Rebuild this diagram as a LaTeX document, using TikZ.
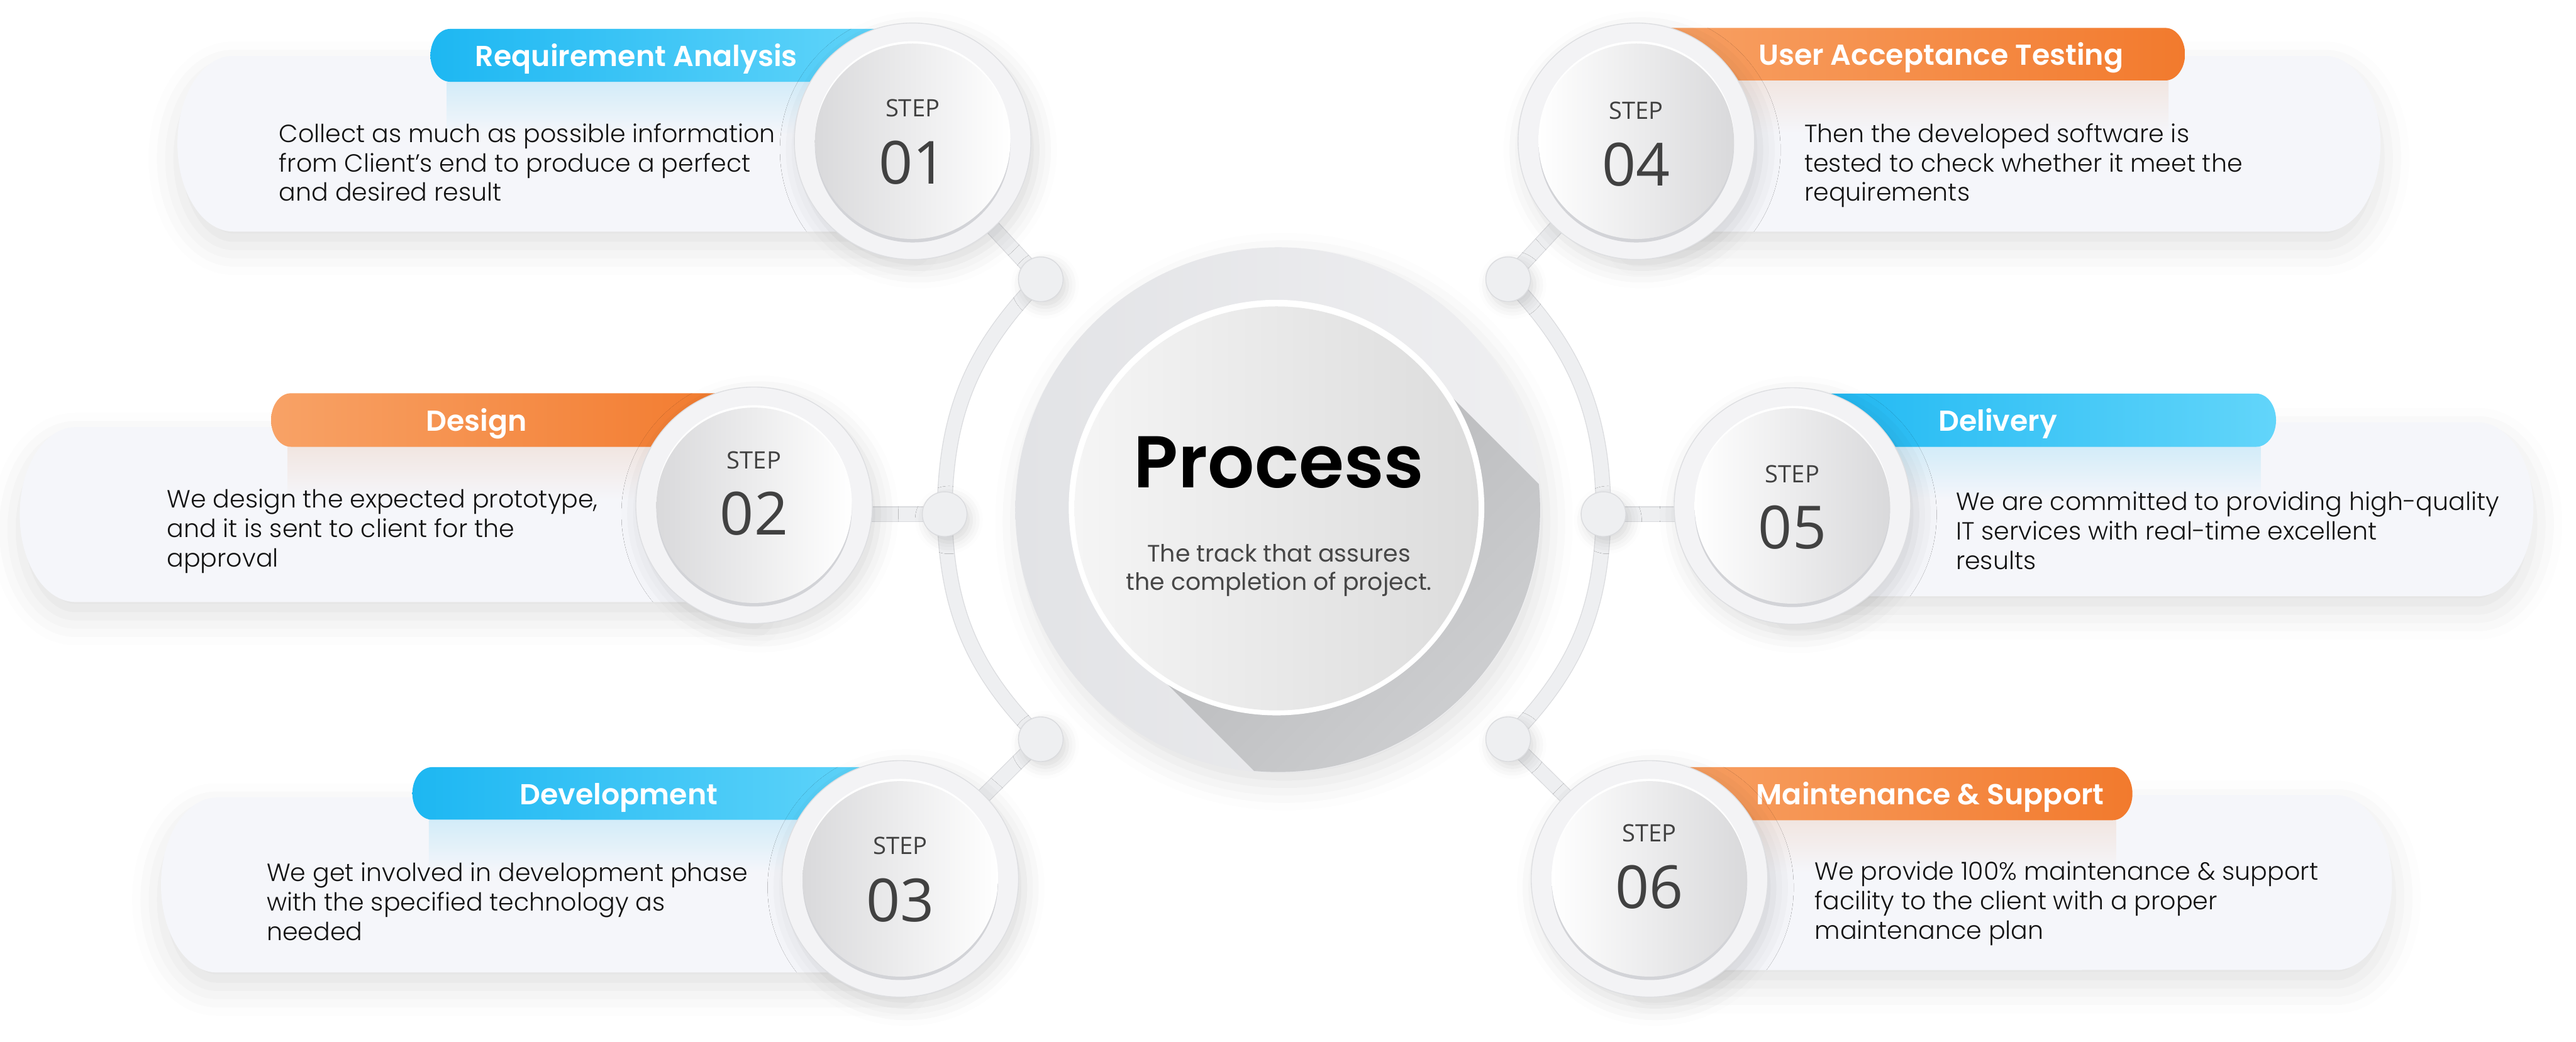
\documentclass[tikz,border=0pt]{standalone}
\usepackage{fontspec}
\setmainfont{Poppins}[BoldFont={Poppins SemiBold}]
\newfontfamily\lightfont{Poppins Light}
\newfontfamily\stepfont{Open Sans}
\usepackage{tikz}
\usetikzlibrary{positioning, backgrounds, shadows.blur}

\definecolor{cardbg}{HTML}{F5F6FA}
\definecolor{bluedark}{HTML}{1DB7F2}
\definecolor{bluelight}{HTML}{62D5FA}
\definecolor{orangelight}{HTML}{F8A266}
\definecolor{orangedark}{HTML}{F27A2D}
\definecolor{ringfill}{HTML}{F3F3F5}
\definecolor{ringedge}{HTML}{DDDEE1}
\definecolor{bandfill}{HTML}{EEEFF1}
\definecolor{bandedge}{HTML}{DADBDE}
\definecolor{discdark}{HTML}{D9D9DB}
\definecolor{disclight}{HTML}{FFFFFF}
\definecolor{crescent}{HTML}{D2D3D7}
\definecolor{stepgrey}{HTML}{414141}
\definecolor{plateA}{HTML}{E2E3E6}
\definecolor{plateB}{HTML}{EFEFF1}
\definecolor{coreA}{HTML}{F5F5F5}
\definecolor{coreB}{HTML}{DCDCDC}
\definecolor{longshadow}{HTML}{B4B5B7}
\definecolor{shadowend}{HTML}{E2E3E5}
\definecolor{subgrey}{HTML}{474747}
\definecolor{bodyblack}{HTML}{141414}

\begin{document}
\begin{tikzpicture}[x=0.02cm, y=-0.02cm,
  card/.style={fill=cardbg, blur shadow={shadow xshift=0pt, shadow yshift=-5pt, shadow blur radius=10pt, shadow opacity=12}},
  bluepill/.style={left color=bluedark, right color=bluelight},
  orangepill/.style={left color=orangelight, right color=orangedark},
  bluecast/.style={top color=bluedark!16!cardbg, bottom color=cardbg},
  orangecast/.style={top color=black!12!orangedark!12!cardbg, bottom color=cardbg},
  title/.style={anchor=base west, inner sep=0pt, text=white, font=\fontsize{10}{12}\selectfont\bfseries},
  body/.style={anchor=base west, inner sep=0pt, align=left, text=bodyblack, font=\lightfont\fontsize{8.62}{10.2}\selectfont},
  stepring/.style={circle, minimum size=2.88cm, inner sep=0pt, fill=ringfill, draw=ringedge, line width=0.3pt,
    blur shadow={shadow xshift=2pt, shadow yshift=-3pt, shadow blur radius=7pt, shadow opacity=14}},
  stepdisc/.style={circle, minimum size=2.38cm, inner sep=0pt},
  steplabel/.style={inner sep=0pt, text=stepgrey, font=\stepfont\fontsize{8.3}{10}\selectfont},
  stepnum/.style={inner sep=0pt, text=stepgrey, font=\stepfont\fontsize{20.6}{24}\selectfont},
  ringdot/.style={circle, minimum size=0.544cm, inner sep=0pt, fill=bandfill, draw=bandedge, line width=0.3pt,
    blur shadow={shadow xshift=1.5pt, shadow yshift=-2pt, shadow blur radius=4pt, shadow opacity=14}},
  ringband/.style={line width=0.17cm, draw=bandfill, preaction={draw=bandedge, line width=0.19cm}}
]
\begin{scope}[on background layer]
  \fill[white] (0,0) rectangle (1568,634);
\end{scope}
\useasboundingbox (0,0) rectangle (1568,634);
\path[card] (-3000,-3000) rectangle (-2990,-2990);

% cards
\path[card] (555,34) -- (142,34) arc[start angle=90, end angle=270, x radius=0.68cm, y radius=1.07cm] -- (555,141) -- cycle;
\path[card] (459,260) -- (46,260) arc[start angle=90, end angle=270, x radius=0.68cm, y radius=1.065cm] -- (459,366.5) -- cycle;
\path[card] (548,485.5) -- (132,485.5) arc[start angle=90, end angle=270, x radius=0.68cm, y radius=1.065cm] -- (548,592) -- cycle;
\path[card] (996,34) -- (1415,34) arc[start angle=90, end angle=-90, x radius=0.68cm, y radius=1.07cm] -- (996,141) -- cycle;
\path[card] (1091,257) -- (1508,257) arc[start angle=90, end angle=-90, x radius=0.68cm, y radius=1.06cm] -- (1091,363) -- cycle;
\path[card] (1004,484) -- (1422,484) arc[start angle=90, end angle=-90, x radius=0.68cm, y radius=1.065cm] -- (1004,590.5) -- cycle;

% pill shadows on the cards
\shade[bluecast] (272,49.8) rectangle (540,82);
\shade[orangecast] (175,272) rectangle (450,304);
\shade[bluecast] (261,499) rectangle (540,531);
\shade[orangecast] (1000,49) rectangle (1320,81);
\shade[bluecast] (1090,272) rectangle (1376,304);
\shade[orangecast] (1004,499.3) rectangle (1288,531);

% title pills
\path[bluepill] (540,17.6) -- (274,17.6) arc[start angle=90, end angle=270, x radius=0.24cm, y radius=0.322cm] -- (540,49.8) -- cycle;
\path[orangepill] (450,239.4) -- (177,239.4) arc[start angle=90, end angle=270, x radius=0.24cm, y radius=0.326cm] -- (450,272) -- cycle;
\path[bluepill] (540,467) -- (263,467) arc[start angle=90, end angle=270, x radius=0.24cm, y radius=0.32cm] -- (540,499) -- cycle;
\path[orangepill] (1000,17) -- (1318,17) arc[start angle=90, end angle=-90, x radius=0.24cm, y radius=0.32cm] -- (1000,49) -- cycle;
\path[bluepill] (1090,239.6) -- (1373.4,239.6) arc[start angle=90, end angle=-90, x radius=0.24cm, y radius=0.324cm] -- (1090,272) -- cycle;
\path[orangepill] (1004,467) -- (1286,467) arc[start angle=90, end angle=-90, x radius=0.24cm, y radius=0.323cm] -- (1004,499.3) -- cycle;

\node[title] (t1) at (289,40.4) {Requirement Analysis};
\node[title] (t2) at (259,262.4) {Design};
\node[title] (t3) at (316,489.7) {Development};
\node[title] (t4) at (1070,39.7) {User Acceptance Testing};
\node[title] (t5) at (1179.5,262.5) {Delivery};
\node[title] (t6) at (1068.7,489.9) {Maintenance \& Support};

\node[body] (b1) at (169.6,122.5) {Collect as much as possible information\\from Client’s end to produce a perfect\\and desired result};
\node[body] (b2) at (101.3,345) {We design the expected prototype,\\and it is sent to client for the\\approval};
\node[body] (b3) at (162,572.5) {We get involved in development phase\\with the specified technology as\\needed};
\node[body] (b4) at (1098,122.5) {Then the developed software is\\tested to check whether it meet the\\requirements};
\node[body] (b5) at (1190.2,346.5) {We are committed to providing high-quality\\IT services with real-time excellent\\results};
\node[body] (b6) at (1104.3,571.6) {We provide 100\% maintenance \& support\\facility to the client with a proper\\maintenance plan};

% centre plate
\node[circle, minimum size=6.4cm, inner sep=0pt, left color=plateA, right color=plateB,
  blur shadow={shadow xshift=2pt, shadow yshift=-4pt, shadow blur radius=9pt, shadow opacity=12}] (plate) at (778,310.5) {};
\begin{scope}
  \clip (plate.center) circle[radius=3.19cm];
  \shade[top color=longshadow, bottom color=shadowend, shading angle=45] (864,222) -- (1076,434) -- (902,608) -- (690,396) -- cycle;
\end{scope}
\node[circle, minimum size=5.06cm, inner sep=0pt, fill=white] (rim) at (777,309) {};
\node[circle, minimum size=4.92cm, inner sep=0pt, left color=coreA, right color=coreB] (core) at (777,309.5) {};
\node[anchor=base, inner sep=0pt, font=\fontsize{25.4}{30}\selectfont\bfseries] (head) at (778.5,297) {Process};
\node[anchor=base, inner sep=0pt, align=center, text=subgrey, font=\fontsize{8.25}{9.9}\selectfont] (sub) at (778.5,359.3) {The track that assures\\the completion of project.};

% ring dots
\node[ringdot] (tl) at (633.5,170) {};
\node[ringdot] (ml) at (575,313) {};
\node[ringdot] (bl) at (633.5,450) {};
\node[ringdot] (tr) at (918,170) {};
\node[ringdot] (mr) at (976,313) {};
\node[ringdot] (br) at (918,450) {};

% step circles
\foreach \i/\px/\py/\sa/\sb/\ly/\ny in {1/555.5/86/discdark/disclight/66/99, 2/459/307.6/discdark/disclight/280/312.5,
    3/548/535/discdark/disclight/515/548, 4/996/86/disclight/discdark/67.5/100,
    5/1091/308/disclight/discdark/288.6/321.2, 6/1004/535/disclight/discdark/507.3/540}{
  \node[stepring] (s\i) at (\px,\py) {};
  \node[stepdisc, fill=crescent, yshift=-1.2pt] (k\i) at (\px,\py) {};
  \node[stepdisc, fill=white, yshift=0.8pt] (h\i) at (\px,\py) {};
  \node[stepdisc, left color=\sa, right color=\sb] (d\i) at (\px,\py) {};
  \node[steplabel] (l\i) at (\px,\ly) {STEP};
  \node[stepnum] (n\i) at (\px,\ny) {0\i};
}

\begin{scope}[on background layer]
  \draw[ringband] (tl.center) to[bend right=22] (ml.center) to[bend right=22] (bl.center);
  \draw[ringband] (tr.center) to[bend left=22] (mr.center) to[bend left=22] (br.center);
  \draw[ringband] (tl.center) -- (s1.center);
  \draw[ringband] (ml.center) -- (s2.center |- ml.center);
  \draw[ringband] (bl.center) -- (s3.center);
  \draw[ringband] (tr.center) -- (s4.center);
  \draw[ringband] (mr.center) -- (s5.center |- mr.center);
  \draw[ringband] (br.center) -- (s6.center);
\end{scope}
\end{tikzpicture}
\end{document}
